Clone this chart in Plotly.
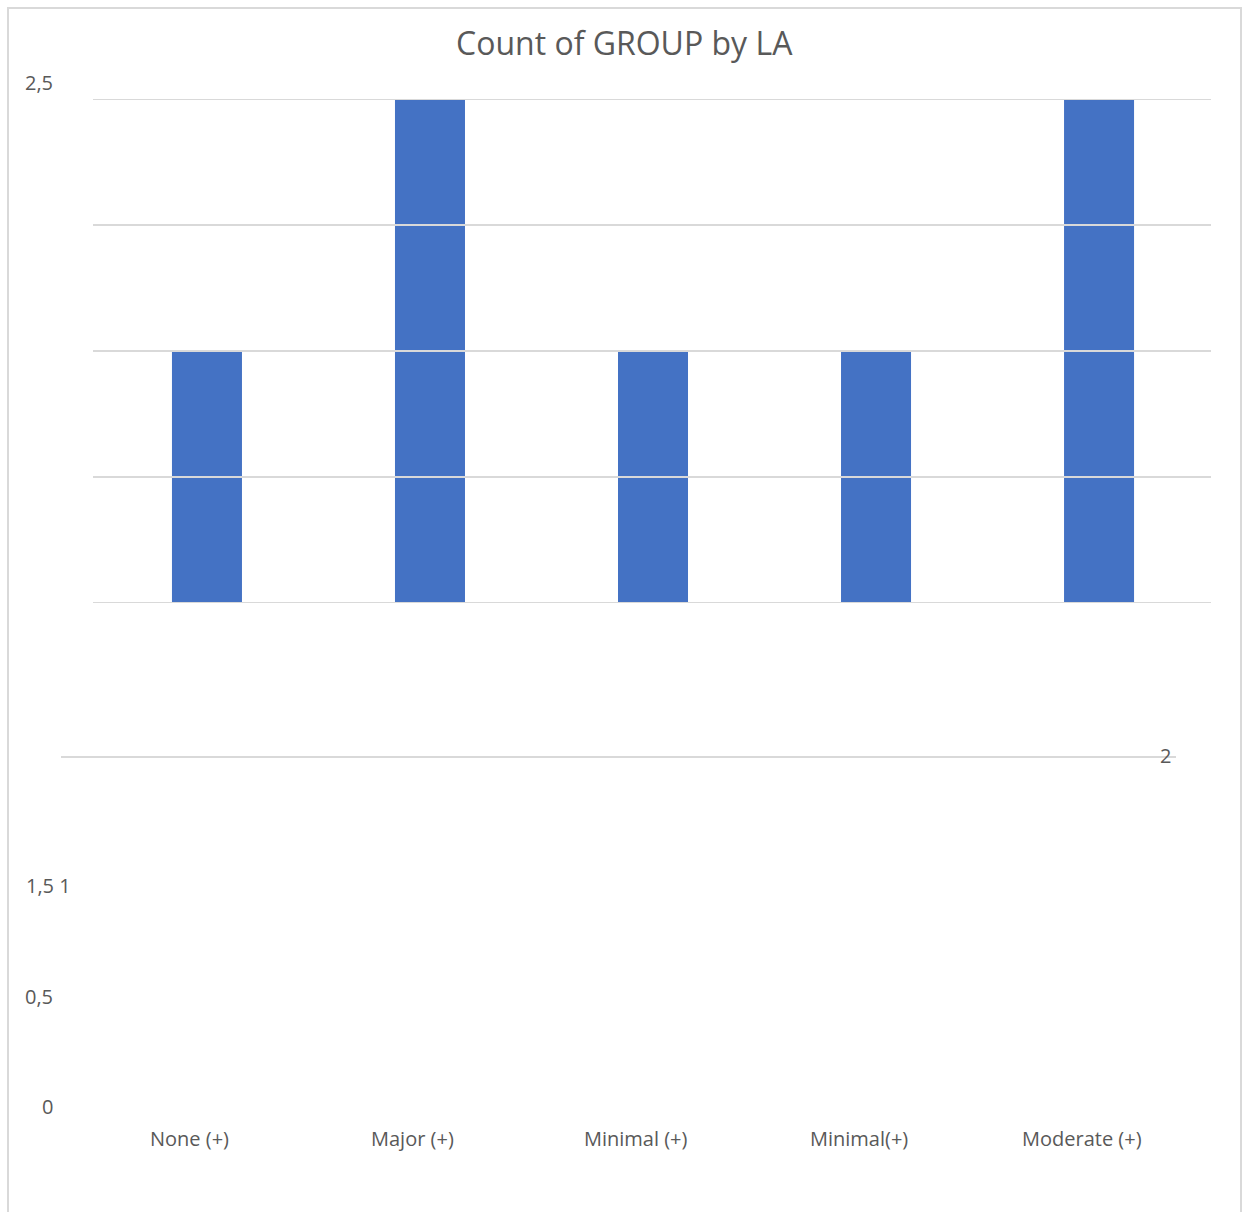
import plotly.graph_objects as go

categories = ["None (+)", "Major (+)", "Minimal (+)", "Minimal(+)", "Moderate (+)"]
counts = [1, 2, 1, 1, 2]
grid_values = [0, 0.5, 1, 1.5, 2]
# stray axis labels as they appear in the reference (text, x px, y px, anchor)
stray_labels = [("2,5", 55, 83, "right"), ("2", 1158, 755, "left"),
                ("1,5 1", 24, 885, "left"), ("0,5", 55, 996, "right"),
                ("0", 55, 1106, "right")]

W, H = 1243, 1212
L, R, T, B = 93, 1211, 99, 603
TEXT = "#595959"
GRID = "#d9d9d9"
FONT = "Open Sans"

def px(x):
    return (x - L) / (R - L)

def py(y):
    return (B - y) / (B - T)

fig = go.Figure(go.Bar(x=categories, y=counts, marker_color="#4472C4",
                       marker_line_width=0))

shapes = []
for g in grid_values:
    shapes.append(dict(type="line", xref="paper", yref="y", x0=0, x1=1, y0=g, y1=g,
                       line=dict(color=GRID, width=2), layer="above"))
# stray gridline below the plot
shapes.append(dict(type="line", xref="paper", yref="paper", x0=px(61), x1=px(1176),
                   y0=py(757), y1=py(757), line=dict(color=GRID, width=2)))
# chart border
shapes.append(dict(type="line", xref="paper", yref="paper", x0=px(8), x1=px(8),
                   y0=py(7), y1=py(1215), line=dict(color=GRID, width=2)))
shapes.append(dict(type="line", xref="paper", yref="paper", x0=px(8), x1=px(1242),
                   y0=py(8), y1=py(8), line=dict(color=GRID, width=2)))
shapes.append(dict(type="line", xref="paper", yref="paper", x0=px(1241), x1=px(1241),
                   y0=py(7), y1=py(1215), line=dict(color=GRID, width=2)))

annotations = []
for text, x, y, anchor in stray_labels:
    annotations.append(dict(text=text, xref="paper", yref="paper", x=px(x), y=py(y),
                            xanchor=anchor, yanchor="middle", showarrow=False,
                            font=dict(family=FONT, size=20, color=TEXT)))
for c in categories:
    annotations.append(dict(text=c, xref="x", yref="paper", x=c, y=py(1138),
                            xshift=-17, xanchor="center", yanchor="middle",
                            showarrow=False,
                            font=dict(family=FONT, size=20, color=TEXT)))
annotations.append(dict(text="Count of GROUP by LA", xref="paper", yref="paper",
                        x=px(624), y=py(43), xanchor="center", yanchor="middle",
                        showarrow=False,
                        font=dict(family=FONT, size=32, color=TEXT)))

fig.update_layout(
    width=W, height=H,
    margin=dict(l=L, r=W - R, t=T, b=H - B),
    paper_bgcolor="white", plot_bgcolor="white",
    bargap=1 - 70 / 223,
    xaxis=dict(range=[-0.511, 4.502], showticklabels=False, showgrid=False,
               zeroline=False, ticks=""),
    yaxis=dict(range=[0, 2], showticklabels=False, showgrid=False, zeroline=False,
               ticks=""),
    shapes=shapes, annotations=annotations, showlegend=False,
)

fig.write_html("out.html")
